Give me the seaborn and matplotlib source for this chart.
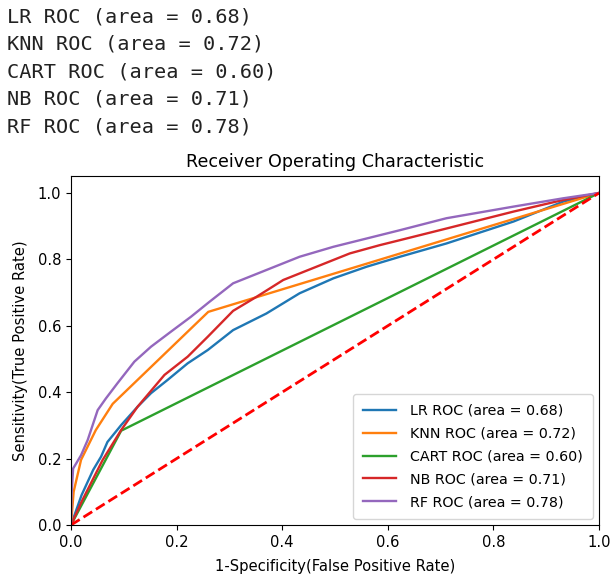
import numpy as np
import pandas as pd
import seaborn as sns
import matplotlib
matplotlib.use("Agg")
import matplotlib.pyplot as plt

# ROC points
models = ["LR", "KNN", "CART", "NB", "RF"]
areas = [0.68, 0.72, 0.60, 0.71, 0.78]

lr_fpr = [0, 0.02, 0.042, 0.057, 0.069, 0.095, 0.126, 0.1515, 0.183, 0.221, 0.259, 0.307, 0.37,
          0.433, 0.497, 0.56, 0.623, 0.711, 0.838, 0.932, 1.0]
lr_tpr = [0, 0.09, 0.166, 0.206, 0.25, 0.301, 0.356, 0.397, 0.437, 0.487, 0.527, 0.587, 0.637,
          0.698, 0.743, 0.778, 0.808, 0.848, 0.914, 0.974, 1.0]

knn_fpr = [0, 0.005, 0.019, 0.047, 0.079, 0.26, 1.0]
knn_tpr = [0, 0.10, 0.196, 0.286, 0.365, 0.642, 1.0]

cart_fpr = [0, 0.095, 1.0]
cart_tpr = [0, 0.284, 1.0]

nb_fpr = [0, 0.02, 0.06, 0.095, 0.126, 0.177, 0.221, 0.259, 0.307, 0.351, 0.402, 0.465, 0.528,
          0.585, 0.623, 0.711, 0.838, 0.932, 1.0]
nb_tpr = [0, 0.07, 0.196, 0.286, 0.356, 0.452, 0.507, 0.567, 0.645, 0.687, 0.738, 0.778, 0.818,
          0.843, 0.858, 0.893, 0.944, 0.979, 1.0]

rf_fpr = [0, 0.001, 0.004, 0.019, 0.0316, 0.0505, 0.066, 0.088, 0.12, 0.1515, 0.189, 0.227,
          0.262, 0.307, 0.37, 0.433, 0.497, 0.56, 0.623, 0.711, 0.838, 0.932, 1.0]
rf_tpr = [0, 0.09, 0.17, 0.21, 0.256, 0.346, 0.381, 0.427, 0.492, 0.537, 0.582, 0.627,
          0.672, 0.728, 0.768, 0.808, 0.838, 0.863, 0.888, 0.924, 0.959, 0.984, 1.0]

curves = [(lr_fpr, lr_tpr), (knn_fpr, knn_tpr), (cart_fpr, cart_tpr),
          (nb_fpr, nb_tpr), (rf_fpr, rf_tpr)]
colors = sns.color_palette("tab10", 5)

plt.rcParams["font.family"] = ["DejaVu Sans"]
plt.rcParams["font.size"] = 10.6

fig = plt.figure(figsize=(6.10, 5.82), dpi=100)

# printed notebook output above the chart
for i, (m, a) in enumerate(zip(models, areas)):
    fig.text(0.012, 1 - (17 + 27.4 * i) / 582, "%s ROC (area = %0.2f)" % (m, a),
             family="DejaVu Sans Mono", fontsize=14.6, va="center", ha="left",
             color="#222222")

ax = fig.add_axes([71 / 610, 57 / 582, 528 / 610, 348.6 / 582])
for (m, a), (fpr, tpr), c in zip(zip(models, areas), curves, colors):
    df = pd.DataFrame({"fpr": fpr, "tpr": tpr})
    sns.lineplot(data=df, x="fpr", y="tpr", ax=ax, color=c, lw=1.7,
                 sort=False, estimator=None,
                 label="%s ROC (area = %0.2f)" % (m, a))

ax.plot([0, 1], [0, 1], "r--", lw=2)
ax.set_xlim([0.0, 1.0])
ax.set_ylim([0.0, 1.05])
ax.set_xlabel("1-Specificity(False Positive Rate)", labelpad=7)
ax.set_ylabel("Sensitivity(True Positive Rate)", labelpad=7)
ax.set_title("Receiver Operating Characteristic", fontsize=12.6, pad=7)
ax.legend(loc="lower right", fontsize=10.3, handlelength=2.3, handletextpad=1.0,
          borderpad=0.7, labelspacing=0.62, borderaxespad=0.4)

fig.savefig("out.png", dpi=100)
